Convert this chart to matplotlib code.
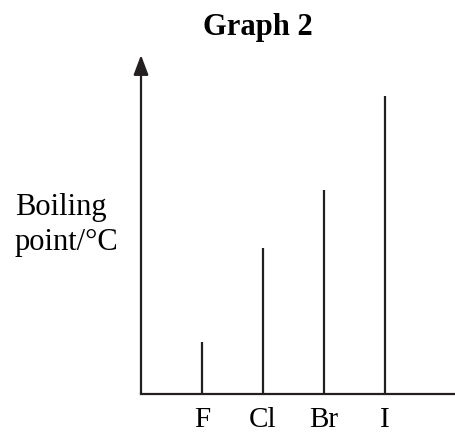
import matplotlib.pyplot as plt

# данные (условные единицы, по высоте линий)
halogens = ['F', 'Cl', 'Br', 'I']
positions = [1, 2, 3, 4]
boiling = [52, 146, 204, 298]

plt.rcParams['font.family'] = ['Liberation Serif', 'DejaVu Serif']

fig = plt.figure(figsize=(4.56, 4.32), dpi=100)
ax = fig.add_axes([141 / 456, 38 / 432, 1 - 141 / 456, (394 - 55) / 432])

ax.vlines(positions, 0, boiling, color='#231f20', lw=1.6)
ax.set_xlim(0, 315 / 61)
ax.set_ylim(0, 339)

for s in ['top', 'right', 'left']:
    ax.spines[s].set_visible(False)
ax.spines['bottom'].set_linewidth(1.6)
ax.spines['bottom'].set_color('#231f20')

# ось y со стрелкой
ax.annotate('', xy=(0, 1), xytext=(0, 0), xycoords='axes fraction',
            arrowprops=dict(arrowstyle='-|>,head_length=1.2,head_width=0.45',
                            mutation_scale=10, lw=1.6, color='#231f20',
                            shrinkA=0, shrinkB=0), annotation_clip=False)

ax.set_xticks(positions)
ax.set_xticklabels(halogens, fontsize=21)
ax.tick_params(axis='x', length=0, pad=33 * 72 / 100)
for lab in ax.get_xticklabels():
    lab.set_va('baseline')
ax.set_yticks([])

fig.text(15 / 456, 1 - 215 / 432, 'Boiling', fontsize=22, ha='left', va='baseline')
fig.text(15 / 456, 1 - 250 / 432, 'point/°C', fontsize=22, ha='left', va='baseline')
fig.text(258 / 456, 1 - 35 / 432, 'Graph 2', fontsize=22, fontweight='bold',
         ha='center', va='baseline')

plt.savefig('out.png', dpi=100)
plt.close()
